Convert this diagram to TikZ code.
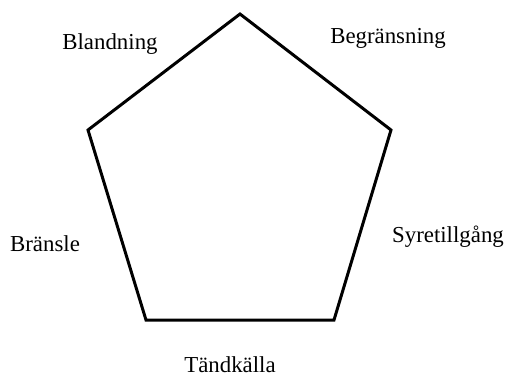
\documentclass[tikz,border=0pt]{standalone}
\usepackage{fontspec}
\setmainfont{Liberation Serif}
\usetikzlibrary{positioning}

\begin{document}
\begin{tikzpicture}\fontsize{13}{15}\selectfont
        \useasboundingbox (0,0) rectangle (10.1,7.52);

        \coordinate (T)  at (4.8,7.24);
        \coordinate (UR) at (7.82,4.92);
        \coordinate (LR) at (6.68,1.12);
        \coordinate (LL) at (2.92,1.12);
        \coordinate (UL) at (1.76,4.92);

        \node (Bl) at (2.2,6.64)  {Blandning};
        \node (Be) at (7.76,6.76) {Begränsning};
        \node (Br) at (0.9,2.64)  {Bränsle};
        \node (Sy) at (8.96,2.78) {Syretillgång};
        \node (Ta) at (4.6,0.22)  {Tändkälla};

        \draw[line width=1.7pt] (T) -- (UR) -- (LR) -- (LL) -- (UL) -- cycle;
    \end{tikzpicture}
\end{document}
